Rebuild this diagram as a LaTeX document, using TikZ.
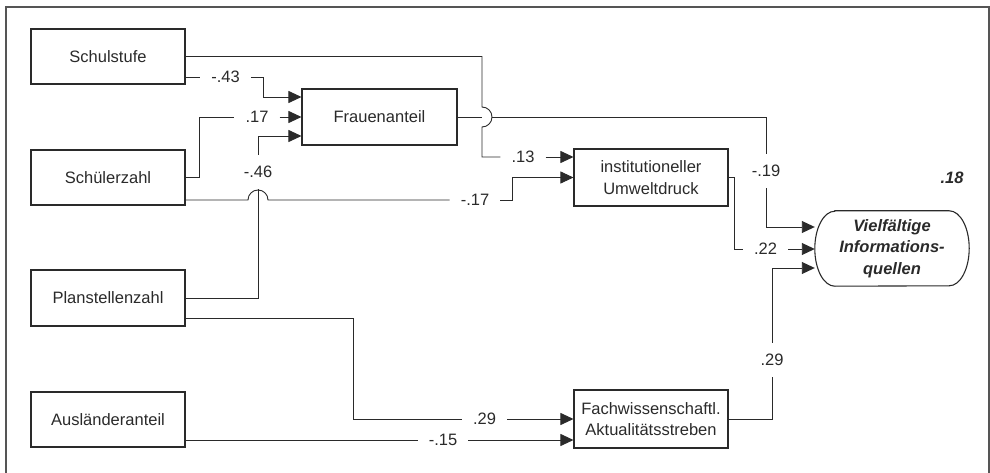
\documentclass[tikz,border=0pt]{standalone}
\usepackage{fontspec}
\setmainfont{Liberation Sans}
\usetikzlibrary{arrows.meta,calc}
\definecolor{ink}{HTML}{2A2A2A}
\definecolor{framegray}{HTML}{555555}
\begin{document}
\begin{tikzpicture}[x=1pt,y=-1pt,
  every node/.style={font=\fontsize{16.5}{21.5}\selectfont, text=ink},
  varbox/.style={draw=ink, line width=1.1pt, minimum width=154pt, inner sep=0pt, align=center},
  coef/.style={inner xsep=11pt, inner ysep=11pt},
  conn/.style={draw=ink, line width=0.9pt},
  arr/.style={-{Triangle[length=13pt,width=12pt]}},
  frame/.style={draw=framegray, line width=1.6pt}]

\useasboundingbox (0,0) rectangle (990,473);

% open frame (top, left, right)
\draw[frame] (6,473) -- (6,7) -- (989,7) -- (989,473);

% exogenous variables
\node[varbox, minimum height=55pt] (schul)    at (108,56.5)  {Schulstufe};
\node[varbox, minimum height=55pt] (schueler) at (108,177.5) {Schülerzahl};
\node[varbox, minimum height=56pt] (plan)     at (108,298)   {Planstellenzahl};
\node[varbox, minimum height=55pt] (ausl)     at (108,419.5) {Ausländeranteil};

% mediators
\node[varbox, minimum width=155pt, minimum height=56pt] (frauen) at (379.5,117) {Frauenanteil};
\node[varbox, minimum height=57pt] (inst) at (651,177.5) {institutioneller\\Umweltdruck};
\node[varbox, minimum height=58pt] (fach) at (651,419) {Fachwissenschaftl.\\Aktualitätsstreben};

% outcome (stadium with elliptic ends)
\node[minimum width=154pt, minimum height=75pt, inner sep=0pt, align=center,
      font=\fontsize{16.5}{21.5}\selectfont\bfseries\itshape] (viel) at (892,248.5)
      {Vielfältige\\Informations-\\quellen};
\draw[draw=ink, line width=1.1pt]
  ($(viel.north west)+(20,0)$) -- ($(viel.north east)+(-20,0)$)
  arc[start angle=-90, end angle=90, x radius=20, y radius=37.5]
  -- ($(viel.south west)+(20,0)$)
  arc[start angle=90, end angle=270, x radius=20, y radius=37.5] -- cycle;

\node[font=\fontsize{16.5}{21.5}\selectfont\bfseries\itshape] (r2) at (952,178) {.18};

% path coefficients
\node[coef] (l43)  at (225.5,77) {-.43};
\node[coef] (l17)  at (257,117)  {.17};
\node[coef] (l46)  at (258,172)  {-.46};
\node[coef] (l13)  at (523,157)  {.13};
\node[coef] (l17b) at (475,200)  {-.17};
\node[coef] (l19)  at (766,171)  {-.19};
\node[coef] (l22)  at (765.5,249) {.22};
\node[coef] (l29a) at (484.5,419) {.29};
\node[coef] (l15)  at (443,440)  {-.15};
\node[coef] (l29b) at (772,360)  {.29};

% Schulstufe -> institutioneller Umweltdruck (hops over the Frauenanteil line)
\draw[conn] (schul.east) -| (482,107)
  arc[start angle=-90, end angle=90, radius=10] |- (l13.west);
\draw[conn,arr] (l13.east) -- (inst.west |- l13);

% Schulstufe -> Frauenanteil
\draw[conn] (schul.east |- l43) -- (l43.west);
\draw[conn,arr] (l43.east) -| (263,97) -- (frauen.west |- 263,97);

% Schülerzahl -> Frauenanteil
\draw[conn] (schueler.east) -| (199,117) -- (l17.west);
\draw[conn,arr] (l17.east) -- (frauen.west);

% Planstellenzahl -> Frauenanteil
\draw[conn] (plan.east) -| (l46.south);
\draw[conn,arr] (l46.north) |- (frauen.west |- 258,136);

% Schülerzahl -> institutioneller Umweltdruck (hops over the Planstellenzahl line)
\draw[conn] (schueler.east |- l17b) -- (248,200)
  arc[start angle=180, end angle=360, radius=10] -- (l17b.west);
\draw[conn,arr] (l17b.east) -| (512,177.5) -- (inst.west);

% Frauenanteil -> Vielfältige Informationsquellen
\draw[conn] (frauen.east) -- (482,117);
\draw[conn] (492,117) -| (l19.north);
\draw[conn,arr] (l19.south) |- (viel.west |- 767,227);

% institutioneller Umweltdruck -> Vielfältige Informationsquellen
\draw[conn] (inst.east) -| (734,249) -- (l22.west);
\draw[conn,arr] (l22.east) -- (viel.west |- l22);

% Planstellenzahl -> Fachwissenschaftl. Aktualitätsstreben
\draw[conn] ($(plan.south east)+(0,-8)$) -| (353,419) -- (l29a.west);
\draw[conn,arr] (l29a.east) -- (fach.west |- l29a);

% Ausländeranteil -> Fachwissenschaftl. Aktualitätsstreben
\draw[conn] (ausl.east |- l15) -- (l15.west);
\draw[conn,arr] (l15.east) -- (fach.west |- l15);

% Fachwissenschaftl. Aktualitätsstreben -> Vielfältige Informationsquellen
\draw[conn] (fach.east) -| (l29b.south);
\draw[conn,arr] (l29b.north) |- (viel.west |- 772,268);

\end{tikzpicture}
\end{document}
